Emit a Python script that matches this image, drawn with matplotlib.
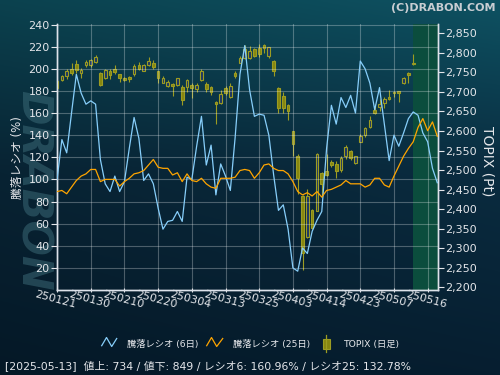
import numpy as np
import matplotlib
matplotlib.use('Agg')
import matplotlib.pyplot as plt
from matplotlib.lines import Line2D
from matplotlib.patches import Rectangle
from matplotlib.ticker import FuncFormatter

plt.rcParams['font.family'] = ['DejaVu Sans', 'Noto Sans CJK JP']

# 騰落レシオ (%), one value per trading day
ratio_6 = [100, 136, 124, 160, 195, 178, 168, 171, 168, 118,
           96, 89, 103, 89, 98, 128, 156, 137, 99, 105,
           96, 74, 55, 62, 63, 71, 62, 102, 100, 130,
           157, 113, 131, 86, 114, 103, 90, 138, 195, 221,
           181, 157, 159, 158, 140, 104, 72, 77, 55, 20,
           17, 38, 33, 53, 63, 71, 128, 167, 150, 174,
           165, 176, 160, 207, 200, 187, 163, 183, 150, 117,
           140, 130, 142, 155, 161, 158, 142, 134, 110, 97]
ratio_25 = [89, 90, 87, 93, 99, 103, 105, 109, 109, 98,
            100, 100, 100, 94, 98, 101, 105, 106, 108, 113,
            118, 111, 110, 110, 104, 106, 98, 105, 99, 98,
            101, 96, 93, 92, 101, 101, 101, 102, 108, 109,
            108, 101, 106, 113, 114, 110, 108, 108, 105, 98,
            89, 86, 88, 85, 89, 84, 90, 91, 93, 95,
            99, 96, 96, 96, 93, 95, 101, 101, 95, 93,
            103, 112, 121, 128, 134, 147, 155, 144, 152, 139]

# TOPIX daily candles
topix_open = [2729, 2731, 2741, 2759, 2771, 2749, 2768, 2768, 2777, 2749,
              2736, 2753, 2758, 2746, 2737, 2739, 2747, 2770, 2754, 2770,
              2775, 2753, 2724, 2714, 2720, 2718, 2713, 2712, 2718, 2707,
              2731, 2720, 2713, 2674, 2673, 2710, 2688, 2748, 2775, 2787,
              2787, 2810, 2812, 2819, 2793, 2780, 2710, 2690, 2667, 2600,
              2536, 2434, 2329, 2398, 2395, 2492, 2498, 2520, 2515, 2500,
              2536, 2549, 2517, 2573, 2590, 2611, 2653, 2662, 2671, 2688,
              2701, 2702, 2724, 2748, 2775]
topix_high = [2734, 2744, 2759, 2775, 2783, 2761, 2782, 2785, 2795, 2751,
              2759, 2759, 2770, 2747, 2739, 2742, 2772, 2777, 2771, 2790,
              2782, 2754, 2741, 2730, 2722, 2737, 2718, 2733, 2724, 2724,
              2758, 2726, 2716, 2676, 2706, 2716, 2724, 2754, 2793, 2821,
              2818, 2812, 2823, 2824, 2816, 2782, 2712, 2699, 2669, 2600,
              2541, 2436, 2451, 2401, 2545, 2494, 2542, 2527, 2524, 2536,
              2565, 2551, 2536, 2592, 2611, 2639, 2669, 2682, 2686, 2705,
              2703, 2703, 2739, 2750, 2796]
topix_low = [2694, 2727, 2734, 2744, 2749, 2736, 2765, 2764, 2774, 2714,
             2734, 2734, 2747, 2725, 2728, 2725, 2742, 2756, 2753, 2766,
             2759, 2724, 2722, 2712, 2690, 2716, 2667, 2701, 2684, 2701,
             2729, 2699, 2693, 2619, 2669, 2693, 2684, 2737, 2773, 2784,
             2784, 2789, 2790, 2799, 2786, 2742, 2647, 2647, 2629, 2536,
             2438, 2243, 2327, 2348, 2394, 2430, 2485, 2509, 2479, 2494,
             2528, 2525, 2515, 2571, 2585, 2609, 2643, 2652, 2659, 2679,
             2686, 2675, 2720, 2724, 2770]
topix_close = [2710, 2740, 2753, 2749, 2755, 2757, 2777, 2783, 2789, 2717,
               2755, 2744, 2751, 2737, 2731, 2732, 2766, 2758, 2768, 2778,
               2764, 2735, 2737, 2726, 2716, 2736, 2680, 2730, 2709, 2718,
               2753, 2707, 2701, 2670, 2694, 2698, 2715, 2740, 2786, 2810,
               2806, 2791, 2797, 2812, 2814, 2754, 2658, 2660, 2650, 2568,
               2481, 2289, 2434, 2351, 2541, 2464, 2488, 2513, 2498, 2532,
               2559, 2530, 2536, 2588, 2609, 2629, 2647, 2669, 2682, 2683,
               2697, 2697, 2736, 2743, 2771]

date_labels = ['250121', '250130', '250210', '250220', '250304', '250313',
               '250325', '250403', '250414', '250423', '250507', '250516']

status_text = '[2025-05-13]  値上: 734 / 値下: 849 / レシオ6: 160.96% / レシオ25: 132.78%'

PLOT_BG = '#1c3564'
FUTURE_BG = '#0b4d3d'
BLUE = '#87cefa'
ORANGE = '#ffa500'
OLIVE = '#868610'
OLIVE_EDGE = '#9c9c22'
TEXT = '#e4e6ea'
W, H = 500, 375


def fpos(x, y):
    # pixel position -> figure fraction
    return x / W, 1 - y / H


fig = plt.figure(figsize=(5, 3.75), dpi=100)

# background gradient
bg = fig.add_axes([0, 0, 1, 1], zorder=-10)
rows = np.linspace(0, 1, 200)[:, None]
cols = np.linspace(0, 1, 200)[None, :]
top = np.array([14, 82, 98]) / 255
mid = np.array([10, 44, 64]) / 255
bot = np.array([6, 30, 48]) / 255
t = np.clip(rows / 0.45, 0, 1)
grad = top * (1 - t[..., None]) + mid * t[..., None]
t2 = np.clip((rows - 0.45) / 0.55, 0, 1)
grad = grad * (1 - t2[..., None]) + bot * t2[..., None]
grad = grad * (0.8 + 0.2 * cols[..., None])
bg.imshow(grad, aspect='auto', extent=[0, 1, 0, 1])
bg.axis('off')

fig.text(33 / W, 1 - 190 / H, 'DRABON', rotation=270, fontsize=30, fontweight='bold',
         style='italic', color='#3f6f7c', alpha=0.5, ha='center', va='center', zorder=-5)

ax = fig.add_axes([56.5 / W, 1 - 290 / H, 381.5 / W, 266 / H])
ax2 = ax.twinx()
ax.set_zorder(3)
ax.patch.set_visible(False)
ax2.set_facecolor(PLOT_BG)

n_days = len(topix_close)
x_ratio = np.arange(len(ratio_6))
x_candle = np.arange(n_days)
x_max = len(ratio_6) - 0.85

ax2.axvspan(n_days - 1, x_max, color=FUTURE_BG, lw=0, zorder=0)

# candles
ax2.vlines(x_candle, topix_low, topix_high, color=OLIVE_EDGE, lw=0.8, zorder=2)
for i in range(n_days):
    o, c = topix_open[i], topix_close[i]
    up = c >= o
    body = Rectangle((i - 0.28, min(o, c)), 0.56, max(abs(c - o), 1.5),
                     facecolor=PLOT_BG if up else OLIVE, edgecolor=OLIVE_EDGE,
                     lw=0.8, zorder=3)
    ax2.add_patch(body)

ax.plot(x_ratio, ratio_6, color=BLUE, lw=0.9, zorder=4)
ax.plot(x_ratio, ratio_25, color=ORANGE, lw=0.9, zorder=4)

ax.set_xlim(-0.12, x_max)
ax.set_ylim(0, 240.5)
ax2.set_ylim(2193, 2874)

ax.set_yticks(np.arange(20, 241, 20))
ax2.set_yticks(np.arange(2200, 2851, 50))
ax2.yaxis.set_major_formatter(FuncFormatter(lambda v, p: '{:,.0f}'.format(v)))

ax.set_xticks(np.arange(len(date_labels)) * 7)
ax.set_xticklabels(date_labels)
for lab in ax.get_xticklabels():
    lab.set_rotation(-15)
    lab.set_rotation_mode('anchor')
    lab.set_ha('center')
    lab.set_va('top')

ax.grid(True, color='white', alpha=0.28, lw=0.8)
ax.tick_params(axis='y', colors=TEXT, labelsize=8, length=4, width=0.8, pad=1)
ax.tick_params(axis='x', colors=TEXT, labelsize=8, length=3, width=0.8, direction='inout', pad=2)
ax2.tick_params(axis='y', colors=TEXT, labelsize=8, length=4, width=0.8, pad=1)

for a in (ax, ax2):
    a.spines['top'].set_visible(False)
    for s in ('left', 'right', 'bottom'):
        a.spines[s].set_color('#dde2ea')
        a.spines[s].set_linewidth(1)

fig.text(*fpos(17, 158), '騰落レシオ (%)', rotation=90, ha='center', va='center',
         fontsize=8.5, color=TEXT)
fig.text(*fpos(487, 161), 'TOPIX (Pt)', rotation=270, ha='center', va='center',
         fontsize=10, color=TEXT)
fig.text(*fpos(495, 8), '(C)DRABON.COM', ha='right', va='center', fontsize=8,
         fontweight='bold', color='#c8cdd2')

# legend
tf = fig.transFigure
icon_blue = [(101.7, 345.7), (106.5, 337.5), (111.7, 346.5), (116.7, 338.5)]
icon_orange = [(206.7, 345.7), (211.5, 337.5), (216.7, 346.5), (222.7, 338.5)]
for pts, col in ((icon_blue, BLUE), (icon_orange, ORANGE)):
    xs, ys = zip(*[fpos(px, py) for px, py in pts])
    fig.add_artist(Line2D(xs, ys, color=col, lw=0.9, transform=tf))
wx, wy0 = fpos(326.3, 352)
_, wy1 = fpos(326.3, 335)
fig.add_artist(Line2D([wx, wx], [wy0, wy1], color=OLIVE_EDGE, lw=0.9, transform=tf))
rx, ry = fpos(323, 348.5)
fig.add_artist(Rectangle((rx, ry), 7 / W, 10 / H, facecolor=OLIVE, edgecolor=OLIVE_EDGE,
                         lw=0.8, transform=tf))
for x0, label in ((126.7, '騰落レシオ (6日)'), (233.3, '騰落レシオ (25日)'), (343.3, 'TOPIX (日足)')):
    fig.text(*fpos(x0, 344), label, ha='left', va='center', fontsize=6.7, color=TEXT)

fig.text(*fpos(5, 366), status_text, ha='left', va='center', fontsize=7.8, color=TEXT)

fig.savefig('out.png', dpi=100)
